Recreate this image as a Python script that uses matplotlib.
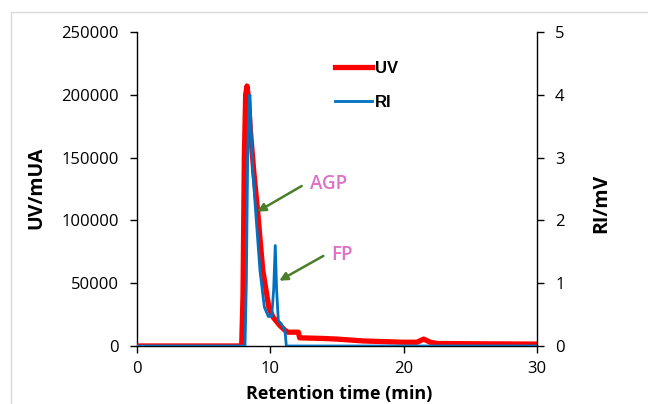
import matplotlib
matplotlib.use("Agg")
import matplotlib.pyplot as plt
from matplotlib.patches import Rectangle

# UV trace (retention time in min, UV in mUA)
uv_time = [0, 7.85, 7.95, 8.05, 8.15, 8.25, 8.35, 8.5, 8.75, 9.05, 9.43, 9.9,
           10.2, 10.7, 11.1, 11.3, 12.1, 12.2, 14.0, 15.0, 17.0, 20.0, 21.0,
           21.5, 22.0, 22.5, 25.0, 30.0]
uv_values = [0, 0, 40000, 150000, 200000, 207000, 198000, 172000, 140000, 107000,
             60500, 30000, 23000, 16500, 12500, 11000, 11000, 6500, 6000,
             5500, 4000, 3000, 3000, 5500, 3000, 2000, 1800, 1500]

# RI trace (retention time in min, RI in mV)
ri_time = [0, 8.1, 8.2, 8.3, 8.4, 8.47, 8.55, 8.68, 8.9, 9.22, 9.55, 9.85, 10.1,
           10.25, 10.37, 10.47, 10.6, 10.8, 11.1, 11.2, 30.0]
ri_values = [0, 0, 1.0, 3.0, 3.9, 4.0, 3.5, 2.8, 2.14, 1.21, 0.62, 0.47, 0.47,
             0.9, 1.6, 0.9, 0.4, 0.36, 0.24, 0.0, 0.0]

x_ticks = [0, 10, 20, 30]
uv_ticks = [0, 50000, 100000, 150000, 200000, 250000]
ri_ticks = [0, 1, 2, 3, 4, 5]

RED = "#FF0000"
BLUE = "#0070C0"
GREEN = "#4A7F2A"
PINK = "#DD72C6"
FONT = "Open Sans"

plt.rcParams["font.family"] = [FONT, "DejaVu Sans"]

fig = plt.figure(figsize=(6.48, 4.04), dpi=100)
fig.patches.append(Rectangle((11 / 648, -0.2), 1.2, 1.2 - 12 / 404,
                             transform=fig.transFigure, fill=False,
                             edgecolor="#D9D9D9", lw=1.0))
ax = fig.add_axes([137 / 648, 1 - 346 / 404, 400 / 648, 314 / 404])
ax2 = ax.twinx()

l_uv, = ax.plot(uv_time, uv_values, color=RED, lw=3.8, zorder=3,
                solid_joinstyle="round", label="UV")
l_ri, = ax2.plot(ri_time, ri_values, color=BLUE, lw=2.0, zorder=3,
                 solid_joinstyle="round", label="RI")

ax.set_xlim(0, 30)
ax.set_ylim(0, 250000)
ax2.set_ylim(0, 5)
ax.set_xticks(x_ticks)
ax.set_yticks(uv_ticks)
ax2.set_yticks(ri_ticks)

for a in (ax, ax2):
    a.spines["top"].set_visible(False)
    for s in a.spines.values():
        s.set_color("black")
        s.set_linewidth(1.0)
    a.tick_params(direction="out", length=5, width=1.0, labelsize=12,
                  colors="black")
ax.spines["right"].set_visible(False)
ax2.spines["left"].set_visible(False)
ax2.spines["bottom"].set_visible(False)
ax.tick_params(axis="x", pad=6)
ax.tick_params(axis="y", pad=8)
ax2.tick_params(axis="y", pad=8)

ax.set_xlabel("Retention time (min)", fontsize=13, fontweight="bold")
ax.xaxis.set_label_coords(0.505, -0.153)
ax.xaxis.label.set_va("center")
ax.set_ylabel("UV/mUA", fontsize=14, fontweight="bold")
ax.yaxis.set_label_coords(-0.2525, 0.503)
ax.yaxis.label.set_va("center")
ax2.set_ylabel("RI/mV", fontsize=14, fontweight="bold")
ax2.yaxis.set_label_coords(1.16, 0.455)
ax2.yaxis.label.set_va("center")

leg = ax2.legend(handles=[l_uv, l_ri], loc="upper left",
                 bbox_to_anchor=(0.495, 0.909), frameon=False,
                 handlelength=2.2, handletextpad=0.2, labelspacing=1.15,
                 borderpad=0, borderaxespad=0,
                 prop={"family": ["Liberation Sans", "DejaVu Sans"],
                       "weight": "bold", "size": 12})

# Annotations
ax.annotate("", xy=(9.02, 106900), xytext=(12.35, 127400),
            arrowprops=dict(arrowstyle="-|>", color=GREEN, lw=1.8,
                            mutation_scale=12, shrinkA=0, shrinkB=0), zorder=5)
ax.text(14.4, 129000, "AGP", color=PINK, fontsize=13.5, fontweight="semibold",
        ha="center", va="center", zorder=5)
ax.annotate("", xy=(10.67, 52000), xytext=(13.97, 71700),
            arrowprops=dict(arrowstyle="-|>", color=GREEN, lw=1.8,
                            mutation_scale=12, shrinkA=0, shrinkB=0), zorder=5)
ax.text(15.4, 72500, "FP", color=PINK, fontsize=13.5, fontweight="semibold",
        ha="center", va="center", zorder=5)

fig.savefig("out.png", dpi=100)
